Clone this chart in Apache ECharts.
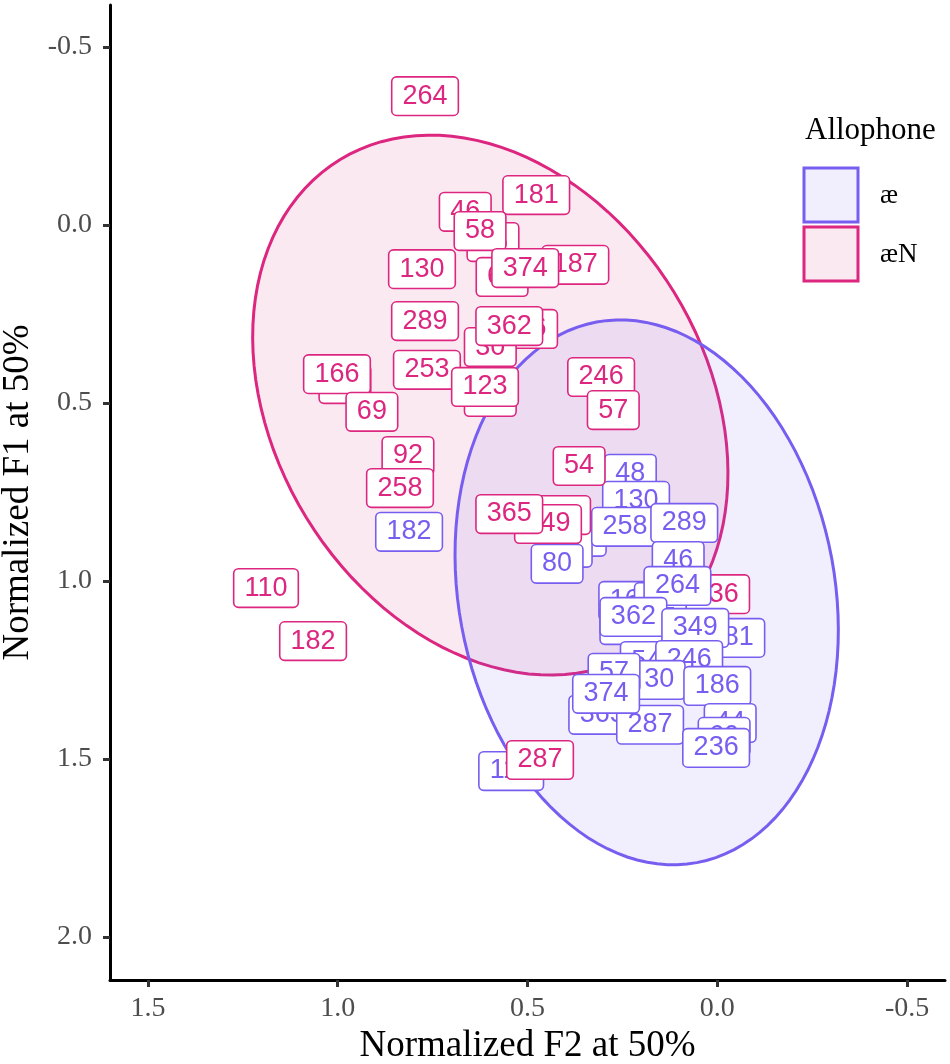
<!DOCTYPE html>
<html>
<head>
<meta charset="utf-8">
<script src="https://cdn.jsdelivr.net/npm/echarts@6/dist/echarts.min.js"></script>
<style>
  html, body { margin: 0; padding: 0; background: #fff; }
  #chart { width: 950px; height: 1064px; }
</style>
</head>
<body>
<div id="chart"></div>
<script>
// speaker labels, drawn bottom -> top
var aeLabels = ['182','48','130','69','58','258','289','80','46','166','92','264','123','362','181','349','54','246','30','57','186','365','287','374','44','60','236','110'];
var aeF2 = [0.812,0.229,0.214,0.361,0.398,0.243,0.087,0.422,0.103,0.224,0.150,0.105,0.221,0.221,-0.037,0.058,0.187,0.074,0.153,0.272,0.000,0.303,0.177,0.293,-0.034,-0.018,0.003,0.543];
var aeF1 = [0.862,0.699,0.775,0.876,0.907,0.848,0.837,0.952,0.944,1.056,1.059,1.014,1.124,1.101,1.160,1.132,1.225,1.222,1.278,1.258,1.295,1.376,1.404,1.317,1.399,1.438,1.469,1.534];

var aeNLabelsLow = ['236'];
var aeNF2Low = [0.003];
var aeNF1Low = [1.037];

var aeNLabels = ['264','181','46','66','58','60','187','374','130','289','186','30','362','253','88','123','44','166','69','246','57','92','258','54','280','349','365','110','182','287'];
var aeNF2 = [0.770,0.477,0.664,0.591,0.625,0.567,0.374,0.506,0.778,0.770,0.509,0.598,0.548,0.765,0.598,0.612,0.981,1.002,0.910,0.306,0.274,0.815,0.836,0.364,0.422,0.446,0.548,1.189,1.065,0.467];
var aeNF1 = [-0.362,-0.084,-0.037,0.048,0.017,0.146,0.112,0.121,0.124,0.270,0.292,0.343,0.284,0.407,0.483,0.455,0.447,0.419,0.525,0.427,0.520,0.649,0.739,0.677,0.815,0.840,0.812,1.020,1.169,1.503];

// ellipse: centre F2, centre F1, then cos/sin terms for F2 and F1
var aeEllipse = [0.186, 1.032, -0.1321, 0.4874, 0.7593, 0.0962];
var aeNEllipse = [0.598, 0.506, -0.3965, 0.4846, 0.6893, 0.3164];

var tickValues = [-0.5, 0, 0.5, 1, 1.5, 2];

var blue = '#785EF0';
var red = '#DC267F';

function labelSeries(labels, xs, ys, color) {
  return {
    type: 'scatter',
    silent: true,
    symbolSize: 1,
    itemStyle: { color: 'rgba(0,0,0,0)', opacity: 1 },
    data: labels.map(function (l, i) { return [xs[i], ys[i], l]; }),
    label: {
      show: true,
      position: 'inside',
      formatter: function (p) { return p.data[2]; },
      color: color,
      fontFamily: 'Liberation Sans',
      fontSize: 27,
      lineHeight: 28,
      backgroundColor: '#fff',
      borderColor: color,
      borderWidth: 1.6,
      borderRadius: 4,
      padding: [5, 10, 4, 10]
    },
    labelLayout: { hideOverlap: false },
    emphasis: { disabled: true },
    z: 5
  };
}

function ellipseSeries(e, color, fill) {
  return {
    type: 'custom',
    silent: true,
    data: [[e[0], e[1]]],
    renderItem: function (params, api) {
      var pts = [];
      for (var k = 0; k <= 120; k++) {
        var t = k / 120 * Math.PI * 2;
        pts.push(api.coord([e[0] + e[2] * Math.cos(t) + e[3] * Math.sin(t),
                            e[1] + e[4] * Math.cos(t) + e[5] * Math.sin(t)]));
      }
      return {
        type: 'polygon',
        shape: { points: pts },
        style: { fill: fill, stroke: color, lineWidth: 3 }
      };
    },
    z: 1
  };
}

var myChart = echarts.init(document.getElementById('chart'));
var option = {
  animation: false,
  grid: { left: 110, top: 5, width: 835, height: 975, outerBoundsMode: 'none', containLabel: false },
  xAxis: {
    type: 'value',
    inverse: true,
    min: -0.6,
    max: 1.6,
    name: 'Normalized F2 at 50%',
    nameLocation: 'middle',
    nameGap: 47,
    nameTextStyle: { fontFamily: 'Liberation Serif', fontSize: 37, color: '#000' },
    axisLine: { onZero: false, lineStyle: { color: '#000', width: 3 } },
    axisTick: { show: true, length: 7, customValues: tickValues, lineStyle: { color: '#333', width: 3 } },
    axisLabel: {
      customValues: tickValues,
      margin: 15,
      fontFamily: 'Liberation Serif',
      fontSize: 28,
      color: '#4D4D4D',
      formatter: function (v) { return v.toFixed(1); }
    },
    splitLine: { show: false }
  },
  yAxis: {
    type: 'value',
    inverse: true,
    min: -0.618,
    max: 2.121,
    name: 'Normalized F1 at 50%',
    nameLocation: 'middle',
    nameGap: 70,
    nameTextStyle: { fontFamily: 'Liberation Serif', fontSize: 37, color: '#000' },
    axisLine: { onZero: false, lineStyle: { color: '#000', width: 3 } },
    axisTick: { show: true, length: 7, customValues: tickValues, lineStyle: { color: '#333', width: 3 } },
    axisLabel: {
      customValues: tickValues,
      margin: 18,
      fontFamily: 'Liberation Serif',
      fontSize: 28,
      color: '#4D4D4D',
      formatter: function (v) { return v.toFixed(1); }
    },
    splitLine: { show: false }
  },
  graphic: [
    { type: 'text', left: 805, top: 115, style: { text: 'Allophone', font: '31px "Liberation Serif"', fill: '#000' } },
    { type: 'rect', shape: { x: 804, y: 168, width: 54, height: 54 }, style: { fill: 'rgba(120,94,240,0.1)', stroke: blue, lineWidth: 3 } },
    { type: 'rect', shape: { x: 804, y: 227, width: 54, height: 54 }, style: { fill: 'rgba(220,38,127,0.1)', stroke: red, lineWidth: 3 } },
    { type: 'text', left: 880, top: 182, style: { text: 'æ', font: '27px "Liberation Serif"', fill: '#000' } },
    { type: 'text', left: 880, top: 241, style: { text: 'æN', font: '27px "Liberation Serif"', fill: '#000' } }
  ],
  series: [
    ellipseSeries(aeNEllipse, red, 'rgba(220,38,127,0.1)'),
    ellipseSeries(aeEllipse, blue, 'rgba(120,94,240,0.1)'),
    labelSeries(aeNLabelsLow, aeNF2Low, aeNF1Low, red),
    labelSeries(aeLabels, aeF2, aeF1, blue),
    labelSeries(aeNLabels, aeNF2, aeNF1, red)
  ]
};
myChart.setOption(option);
</script>
</body>
</html>
